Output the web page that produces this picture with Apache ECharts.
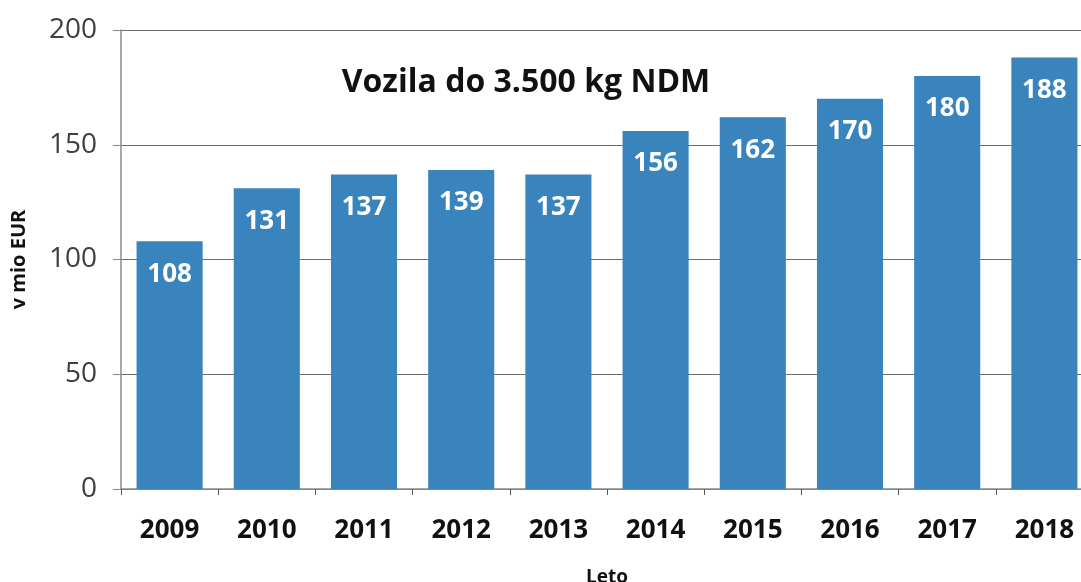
<html>
<head>
<script src="https://cdn.jsdelivr.net/npm/echarts@6/dist/echarts.min.js"></script>
<style>
  html, body { margin: 0; padding: 0; background: #fff; }
</style>
</head>
<body>
<div id="main" style="width:1081px;height:582px;"></div>
<script type="text/javascript">
// leta
var years = ['2009', '2010', '2011', '2012', '2013', '2014', '2015', '2016', '2017', '2018'];
// vrednosti v mio EUR
var values = [108, 131, 137, 139, 137, 156, 162, 170, 180, 188];

var myChart = echarts.init(document.getElementById('main'));

var option = {
    backgroundColor: '#ffffff',
    animation: false,
    textStyle: { fontFamily: 'Open Sans' },
    title: {
        text: 'Vozila do 3.500 kg NDM',
        left: 521,
        top: 48,
        textAlign: 'center',
        textStyle: { fontSize: 32, fontWeight: 'bold', color: '#111', fontFamily: 'Open Sans' }
    },
    grid: { left: 121, right: -12, top: 30, bottom: 93, containLabel: false, outerBoundsMode: 'none' },
    xAxis: {
        type: 'category',
        data: years,
        name: 'Leto',
        nameLocation: 'middle',
        nameGap: 65,
        nameTextStyle: { fontSize: 19, fontWeight: 'bold', color: '#111' },
        axisLine: { lineStyle: { color: '#8c8c8c', width: 1.5 } },
        axisTick: { show: true, length: 6, lineStyle: { color: '#555' } },
        axisLabel: { fontSize: 26, fontWeight: 'bold', color: '#111', margin: 18 }
    },
    yAxis: {
        type: 'value',
        min: 0,
        max: 200,
        interval: 50,
        name: 'v mio EUR',
        nameLocation: 'middle',
        nameGap: 82,
        nameRotate: 90,
        nameTextStyle: { fontSize: 20, fontWeight: 'bold', color: '#111' },
        axisLine: { show: true, lineStyle: { color: '#8c8c8c', width: 1.5 } },
        axisTick: { show: true, length: 8, lineStyle: { color: '#8c8c8c' } },
        axisLabel: { fontSize: 28, color: '#404040', margin: 24 },
        splitLine: { lineStyle: { color: '#6e6e6e', width: 1.2 } }
    },
    series: [{
        type: 'bar',
        data: values,
        barCategoryGap: '32%',
        itemStyle: { color: '#3a84be' },
        label: {
            show: true,
            position: 'insideTop',
            distance: 9,
            color: '#ffffff',
            fontSize: 26,
            fontWeight: 'bold'
        }
    }]
};

myChart.setOption(option);
</script>
</body>
</html>
